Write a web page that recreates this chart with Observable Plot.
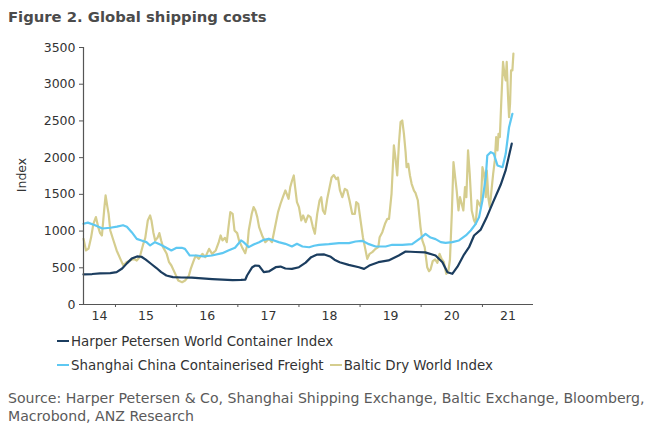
<!DOCTYPE html>
<html><head><meta charset="utf-8">
<script src="https://cdn.jsdelivr.net/npm/d3@7"></script>
<script src="https://cdn.jsdelivr.net/npm/@observablehq/plot@0.6"></script>
<style>
body{margin:0;background:#fff;font-family:"DejaVu Sans",Verdana,sans-serif;}
#wrap{position:relative;width:649px;height:429px;overflow:hidden;background:#fff;}
#title{position:absolute;left:8px;top:8px;font-weight:bold;font-size:14.8px;line-height:18px;color:#4b4b4b;white-space:nowrap;}
#chart{position:absolute;left:0;top:0;}
#ylab{position:absolute;left:2px;top:167px;width:40px;text-align:center;font-size:12.5px;line-height:16px;color:#333;transform:rotate(-90deg);}
.leg{position:absolute;left:57px;font-size:13.4px;line-height:16px;color:#333;white-space:nowrap;}
.sw{display:inline-block;width:12px;height:2px;vertical-align:middle;margin-right:2px;position:relative;top:-1px;}
#src{position:absolute;left:8px;top:389px;font-size:14.1px;line-height:18px;color:#5a5a5a;width:645px;white-space:nowrap;}
</style></head>
<body><div id="wrap">
<div id="title">Figure 2. Global shipping costs</div>
<div id="chart"></div>
<div id="ylab">Index</div>
<div class="leg" id="leg1" style="top:334px"></div>
<div class="leg" id="leg2" style="top:358px"></div>
<div id="src">Source: Harper Petersen &amp; Co, Shanghai Shipping Exchange, Baltic Exchange, Bloomberg,<br>Macrobond, ANZ Research</div>
</div>
<script>
const seriesNames = ["Harper Petersen World Container Index", "Shanghai China Containerised Freight", "Baltic Dry World Index"];
const seriesColors = ["#1b3d5f", "#5ec8f2", "#d5cd8e"];
const yTicks = [0, 500, 1000, 1500, 2000, 2500, 3000, 3500];
const xTickLabels = ["14", "15", "16", "17", "18", "19", "20", "21"];
const xStart = "2014-06-24", xEnd = "2021-11-02";

const harperDates = ["2014-06-24","2014-08-15","2014-10-01","2014-12-01","2015-01-08","2015-02-10","2015-03-10","2015-04-08","2015-05-10","2015-06-05","2015-07-01","2015-08-01","2015-09-01","2015-10-01","2015-11-01","2015-12-10","2016-02-01","2016-04-01","2016-06-01","2016-08-01","2016-10-01","2016-12-01","2017-01-20","2017-02-15","2017-02-25","2017-03-28","2017-04-15","2017-05-08","2017-06-05","2017-07-05","2017-08-15","2017-09-13","2017-10-12","2017-11-20","2018-01-01","2018-02-10","2018-03-15","2018-04-20","2018-06-01","2018-07-10","2018-08-01","2018-09-01","2018-10-25","2018-12-25","2019-01-25","2019-02-25","2019-04-20","2019-06-20","2019-08-20","2019-09-30","2019-11-28","2020-01-25","2020-03-27","2020-05-07","2020-06-06","2020-07-05","2020-08-05","2020-09-13","2020-10-13","2020-11-12","2020-12-22","2021-01-25","2021-03-05","2021-04-20","2021-05-20","2021-06-25"];
const harperValues = [410,415,425,428,440,490,560,625,655,650,610,555,500,440,395,372,368,365,355,345,338,333,335,340,395,508,531,525,440,450,508,517,490,485,508,570,645,680,682,650,610,575,540,508,485,530,576,600,667,722,715,710,667,576,440,418,515,680,780,940,1020,1180,1390,1630,1830,2190];

const shanghaiDates = ["2014-06-24","2014-07-20","2014-09-01","2014-10-15","2014-12-01","2015-01-10","2015-02-15","2015-03-10","2015-04-08","2015-05-08","2015-06-05","2015-07-05","2015-07-27","2015-08-25","2015-09-25","2015-11-01","2015-12-01","2016-01-01","2016-02-01","2016-02-20","2016-03-20","2016-05-01","2016-06-10","2016-07-30","2016-09-30","2016-11-05","2016-12-15","2017-01-20","2017-02-05","2017-03-07","2017-04-05","2017-05-08","2017-06-05","2017-07-05","2017-08-05","2017-09-02","2017-10-12","2017-11-20","2017-12-20","2018-01-22","2018-03-03","2018-04-01","2018-05-01","2018-06-28","2018-08-28","2018-10-27","2018-12-05","2019-01-14","2019-02-23","2019-04-04","2019-06-03","2019-07-12","2019-09-10","2019-11-08","2019-12-28","2020-01-27","2020-02-26","2020-03-27","2020-04-27","2020-05-26","2020-07-05","2020-08-14","2020-09-24","2020-10-23","2020-11-22","2020-12-12","2021-01-01","2021-01-21","2021-01-30","2021-02-20","2021-03-10","2021-04-01","2021-05-01","2021-05-20","2021-06-09","2021-06-29"];
const shanghaiValues = [1100,1115,1080,1035,1045,1060,1080,1060,985,894,872,849,804,849,817,772,736,772,772,758,667,667,654,667,699,736,772,872,849,781,817,849,881,894,872,849,826,790,826,790,780,800,813,822,835,835,858,867,822,790,790,813,813,822,905,962,912,890,849,840,849,872,940,1008,1099,1190,1417,1734,2030,2075,2052,1893,1870,2052,2415,2597];

const balticDates = ["2014-06-24","2014-07-09","2014-07-24","2014-08-08","2014-08-22","2014-09-06","2014-09-20","2014-10-01","2014-10-12","2014-10-27","2014-11-03","2014-11-14","2014-11-21","2014-12-01","2014-12-20","2015-01-08","2015-01-30","2015-02-17","2015-03-07","2015-03-29","2015-04-20","2015-05-08","2015-05-26","2015-06-14","2015-06-28","2015-07-13","2015-07-27","2015-08-04","2015-08-15","2015-08-26","2015-09-09","2015-09-20","2015-10-01","2015-10-12","2015-11-03","2015-11-17","2015-12-01","2015-12-24","2016-01-11","2016-02-03","2016-02-21","2016-03-14","2016-03-25","2016-04-09","2016-04-24","2016-05-12","2016-06-03","2016-06-21","2016-07-13","2016-07-31","2016-08-22","2016-09-09","2016-09-20","2016-10-01","2016-10-16","2016-10-27","2016-11-06","2016-11-17","2016-12-01","2016-12-12","2016-12-28","2017-01-08","2017-01-26","2017-02-14","2017-02-28","2017-03-07","2017-03-25","2017-04-05","2017-04-16","2017-04-27","2017-05-08","2017-05-26","2017-06-14","2017-07-05","2017-07-24","2017-08-15","2017-08-29","2017-09-13","2017-09-27","2017-10-12","2017-10-31","2017-11-10","2017-11-21","2017-12-01","2017-12-09","2017-12-20","2018-01-01","2018-01-15","2018-01-26","2018-02-10","2018-02-25","2018-03-11","2018-03-25","2018-04-06","2018-04-20","2018-05-04","2018-05-14","2018-05-24","2018-06-05","2018-06-19","2018-07-03","2018-07-15","2018-07-28","2018-08-12","2018-08-22","2018-09-03","2018-09-17","2018-10-02","2018-10-16","2018-10-30","2018-11-15","2018-12-01","2018-12-09","2018-12-21","2019-01-04","2019-01-18","2019-01-30","2019-02-13","2019-02-27","2019-03-15","2019-04-04","2019-04-20","2019-04-28","2019-05-14","2019-05-30","2019-06-13","2019-06-23","2019-07-08","2019-07-22","2019-08-01","2019-08-11","2019-08-21","2019-08-31","2019-09-10","2019-09-20","2019-09-30","2019-10-06","2019-10-16","2019-10-26","2019-11-05","2019-11-19","2019-11-28","2019-12-12","2019-12-28","2020-01-08","2020-01-22","2020-02-06","2020-02-17","2020-02-26","2020-03-10","2020-03-24","2020-04-07","2020-04-20","2020-05-02","2020-05-15","2020-05-30","2020-06-12","2020-06-21","2020-07-02","2020-07-12","2020-07-22","2020-07-31","2020-08-11","2020-08-20","2020-08-30","2020-09-09","2020-09-19","2020-09-27","2020-10-07","2020-10-17","2020-10-29","2020-11-12","2020-11-22","2020-12-02","2020-12-12","2020-12-22","2021-01-01","2021-01-11","2021-01-21","2021-01-27","2021-02-06","2021-02-14","2021-02-26","2021-03-06","2021-03-16","2021-03-24","2021-04-01","2021-04-07","2021-04-15","2021-04-23","2021-05-04","2021-05-12","2021-05-20","2021-05-26","2021-06-03","2021-06-09","2021-06-15","2021-06-21","2021-06-29","2021-07-05"];
const balticValues = [894,736,760,908,1099,1190,1054,972,940,1326,1485,1326,1235,1008,872,736,622,531,576,599,622,599,645,808,908,1144,1213,1144,985,872,908,972,872,781,690,576,531,417,327,304,327,390,481,576,667,622,690,645,758,690,736,849,940,872,908,849,1054,1258,1235,1008,972,872,781,699,826,1008,1235,1326,1281,1190,1054,940,849,894,849,1099,1258,1372,1462,1553,1440,1598,1689,1757,1598,1394,1326,1144,1213,1121,1213,1190,1054,963,1235,1417,1462,1281,1235,1440,1598,1730,1762,1707,1730,1553,1462,1575,1553,1417,1235,1235,1394,1372,1144,917,781,622,690,713,758,781,917,985,1099,1167,1167,1508,2167,1985,1757,2188,2484,2507,2325,2075,1870,1916,1757,1644,1550,1520,1420,1054,872,781,508,454,476,591,613,568,690,622,581,418,463,613,1235,1939,1734,1553,1281,1462,1372,1281,1598,1462,2098,1780,1281,1144,1099,1417,1372,1326,1870,1780,1462,1825,1440,1326,1598,1780,1962,2280,2098,2325,2280,2734,3303,3144,3053,3303,2825,2552,2734,3189,3189,3417];

const parse = d3.utcParse("%Y-%m-%d");
function toRows(name, dates, values) { return dates.map((d, i) => ({series: name, date: parse(d), value: values[i]})); }
const rows = [
  ...toRows(seriesNames[2], balticDates, balticValues),
  ...toRows(seriesNames[1], shanghaiDates, shanghaiValues),
  ...toRows(seriesNames[0], harperDates, harperValues)
];
const x0 = parse(xStart), x1 = parse(xEnd);
const firstYear = x0.getUTCFullYear();
const yearTicks = d3.utcYear.range(d3.utcYear.ceil(x0), x1);
const xLabels = xTickLabels.map((t, i) => {
  const a = Math.max(+x0, Date.UTC(firstYear + i, 0, 1));
  const b = Math.min(+x1, Date.UTC(firstYear + i + 1, 0, 1));
  return {label: t, date: new Date((a + b) / 2)};
});

const chart = Plot.plot({
  width: 649, height: 335,
  marginLeft: 83, marginRight: 116, marginTop: 47, marginBottom: 31,
  style: {fontFamily: "'DejaVu Sans', Verdana, sans-serif", fontSize: "12.5px", color: "#333", background: "transparent"},
  x: {type: "utc", domain: [x0, x1]},
  y: {domain: [0, 3500]},
  color: {domain: seriesNames, range: seriesColors},
  marks: [
    Plot.axisY({ticks: yTicks, tickFormat: d3.format("d"), tickSize: 4, tickPadding: 4, label: null, stroke: "#555", fill: "#333", fontSize: 12.5}),
    Plot.axisX({ticks: yearTicks, tickSize: 3, tickFormat: () => "", label: null, stroke: "#555"}),
    Plot.text(xLabels, {x: "date", text: "label", frameAnchor: "bottom", dy: 15, fill: "#333", fontSize: 12.5}),
    Plot.line(rows, {x: "date", y: "value", z: "series", stroke: "series", strokeWidth: 2.2, strokeLinejoin: "round"}),
    Plot.ruleY([0], {stroke: "#555", strokeWidth: 1.2}),
    Plot.ruleX([x0], {stroke: "#555", strokeWidth: 1.2})
  ]
});
document.getElementById("chart").appendChild(chart);

function legItem(i) {
  return `<span class="sw" style="background:${seriesColors[i]}"></span>${seriesNames[i]}`;
}
document.getElementById("leg1").innerHTML = legItem(0);
document.getElementById("leg2").innerHTML = legItem(1) + '<span style="display:inline-block;width:6px"></span>' + legItem(2);
</script>
</body></html>
